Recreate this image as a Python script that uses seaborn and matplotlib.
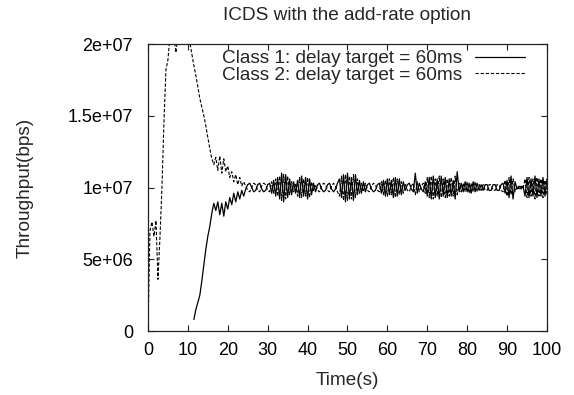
import numpy as np
import matplotlib
matplotlib.use("Agg")
import matplotlib.pyplot as plt
import seaborn as sns

# ---------------- data (Mbps, sampled every 0.5 s) ----------------
time_s = np.arange(0, 100.01, 0.5)

class1_early = [np.nan] * 23 + [
    0.8, 1.5, 2.0, 2.5, 3.5, 4.6, 5.7, 6.6, 7.3, 8.2,
    8.9, 8.4, 9.0, 8.1, 8.9, 8.0, 9.0, 8.5, 9.3, 8.8,
    9.6, 9.0, 9.7, 9.2, 9.8, 9.4,
]
class1_steady = [
    9.9, 10.2, 10.3, 10.0, 9.7, 9.8, 10.2, 10.3, 9.9, 9.7,
    9.8, 10.2, 10.3, 9.6, 10.5, 9.4, 10.7, 9.2, 11.0, 9.0,
    10.9, 9.3, 10.6, 9.5, 10.4, 9.6, 10.5, 9.3, 10.8, 9.4,
    10.7, 9.2, 10.6, 9.5, 10.3, 9.7, 10.2, 10.3, 9.9, 9.7,
    9.8, 10.2, 10.3, 9.9, 9.7, 9.9, 10.3, 10.6, 9.3, 10.9,
    9.0, 11.0, 9.2, 10.7, 9.1, 10.9, 9.5, 10.5, 9.6, 10.4,
    9.7, 10.2, 10.3, 9.9, 9.7, 9.8, 10.2, 10.3, 9.6, 10.5,
    9.4, 10.6, 9.5, 10.5, 9.3, 10.7, 9.4, 10.6, 9.5, 10.4,
    9.8, 10.2, 10.3, 9.9, 9.7, 11.0, 9.6, 10.3, 9.9, 9.7,
    10.4, 9.4, 10.7, 9.2, 10.8, 9.3, 10.6, 9.2, 10.8, 9.4,
    10.7, 9.3, 10.6, 9.4, 10.5, 9.2, 11.1, 9.7, 10.3, 9.7,
    10.4, 9.7, 10.3, 9.6, 10.4, 9.7, 10.3, 9.8, 10.2, 9.8,
    10.2, 10.2, 9.8, 9.8, 10.2, 10.2, 9.8, 9.8, 10.2, 10.3,
    9.6, 10.5, 9.3, 10.8, 9.2, 10.4, 9.9, 10.1, 9.9, 10.1,
    9.4, 10.7, 9.3, 10.6, 9.4, 10.8, 9.3, 10.6, 9.4, 10.7,
    9.4, 10.6,
]

class2_early = [
    0.2, 7.0, 7.6, 6.6, 7.7, 3.6, 6.5, 10.0, 14.5, 18.2,
    18.9, 20.5, 21.0, 20.6, 19.4, 20.6, 21.2, 21.4, 21.3, 21.0,
    20.6, 20.1, 19.3, 18.5, 17.8, 17.0, 16.2, 15.6, 15.0, 14.3,
    13.5, 12.7, 12.0, 11.6, 12.1, 11.2, 12.2, 11.0, 12.0, 11.1,
    11.5, 10.7, 11.1, 10.4, 10.9, 10.2, 10.7, 10.1, 10.4,
]
class2_steady = [
    10.1, 9.8, 9.7, 10.0, 10.3, 10.2, 9.8, 9.7, 10.1, 10.3,
    10.2, 9.8, 9.7, 10.4, 9.6, 10.6, 9.4, 10.8, 9.1, 10.9,
    9.2, 10.8, 9.5, 10.4, 9.7, 10.3, 9.4, 10.7, 9.3, 10.6,
    9.4, 10.7, 9.3, 10.4, 9.8, 10.2, 9.8, 9.7, 10.1, 10.3,
    10.2, 9.8, 9.7, 10.1, 10.3, 10.1, 9.7, 9.4, 10.8, 9.1,
    10.9, 9.1, 10.8, 9.2, 10.9, 9.3, 10.6, 9.6, 10.3, 9.7,
    10.3, 9.8, 9.7, 10.1, 10.3, 10.2, 9.8, 9.7, 10.4, 9.5,
    10.5, 9.4, 10.6, 9.5, 10.7, 9.3, 10.6, 9.5, 10.4, 9.6,
    10.2, 9.8, 9.7, 10.1, 10.3, 9.5, 10.4, 9.7, 10.1, 10.3,
    9.6, 10.7, 9.3, 10.8, 9.2, 10.6, 9.4, 10.8, 9.3, 10.6,
    9.3, 10.6, 9.4, 10.7, 9.4, 10.8, 9.5, 10.3, 9.7, 10.3,
    9.7, 10.4, 9.6, 10.3, 9.7, 10.4, 9.7, 10.2, 9.8, 10.2,
    9.8, 9.8, 10.2, 10.2, 9.8, 9.8, 10.2, 10.2, 9.8, 9.7,
    10.5, 9.4, 10.7, 9.5, 10.6, 9.7, 10.1, 9.9, 10.1, 9.9,
    10.6, 9.3, 10.7, 9.4, 10.6, 9.2, 10.7, 9.4, 10.6, 9.3,
    10.5, 9.5,
]

labels = ["Class 1: delay target = 60ms", "Class 2: delay target = 60ms"]
x_ticks = [0, 10, 20, 30, 40, 50, 60, 70, 80, 90, 100]
y_ticks = [0, 5e6, 1e7, 1.5e7, 2e7]
y_tick_labels = ["0", "5e+06", "1e+07", "1.5e+07", "2e+07"]

class1_bps = np.array(class1_early + class1_steady) * 1e6
class2_bps = np.array(class2_early + class2_steady) * 1e6

# ---------------- style ----------------
sns.set_theme(style="ticks")
plt.rcParams["font.family"] = ["Liberation Sans", "DejaVu Sans"]
plt.rcParams["axes.linewidth"] = 0.9
plt.rcParams["axes.edgecolor"] = "#222222"

fig = plt.figure(figsize=(5.74, 3.95), dpi=100)
ax = fig.add_axes([0.2578, 0.1620, 0.6951, 0.7266])

sns.lineplot(x=time_s, y=class1_bps, ax=ax, color="black", lw=0.9,
             label=labels[0], estimator=None, sort=False)
sns.lineplot(x=time_s, y=class2_bps, ax=ax, color="black", lw=0.8,
             label=labels[1], estimator=None, sort=False)
ax.lines[1].set_dashes((3, 1.6))

ax.set_xlim(0, 100)
ax.set_ylim(0, 2e7)
ax.set_xticks(x_ticks)
ax.set_xticklabels([str(v) for v in x_ticks])
ax.set_yticks(y_ticks)
ax.set_yticklabels(y_tick_labels)

fs = 13
fs_big = 13.7
ax.tick_params(direction="in", length=4.5, width=0.8, top=True, right=True,
               labelsize=fs, colors="#222222", labelcolor="black")
ax.tick_params(axis="y", pad=10.8)
ax.tick_params(axis="x", pad=8)
for s in ax.spines.values():
    s.set_visible(True)

ax.set_xlabel("Time(s)", fontsize=fs_big, va="center")
ax.xaxis.set_label_coords(0.5, -0.171)
ax.set_ylabel("Throughput(bps)", fontsize=fs_big, va="center")
ax.yaxis.set_label_coords(-0.308, 0.5)
ax.set_title("ICDS with the add-rate option", fontsize=fs_big, y=1.101, va="center", pad=0)

leg = ax.legend(loc="upper right", bbox_to_anchor=(0.963, 1.006), frameon=False,
                markerfirst=False, handlelength=2.6, handletextpad=0.7,
                labelspacing=-0.05, fontsize=fs_big, borderaxespad=0.0)

fig.savefig("out.png", dpi=100)
